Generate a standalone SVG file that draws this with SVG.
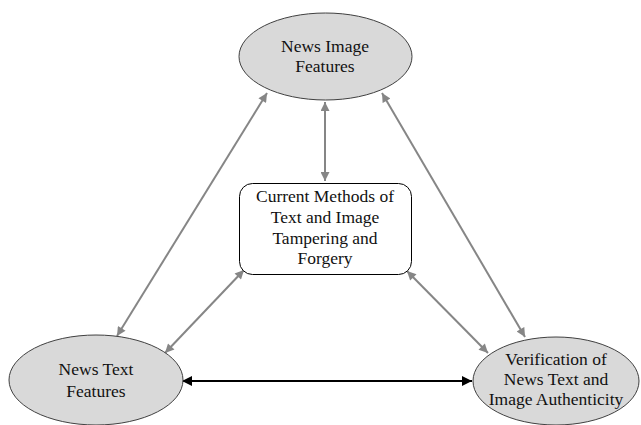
<svg xmlns="http://www.w3.org/2000/svg" width="641" height="425" viewBox="0 0 641 425">
<defs>
<marker id="ag" viewBox="0 0 10 10" refX="10" refY="5" markerWidth="10" markerHeight="9" markerUnits="userSpaceOnUse" orient="auto-start-reverse"><path d="M0,0 L10,5 L0,10 Z" fill="#868686"/></marker>
<marker id="ab" viewBox="0 0 10 10" refX="10" refY="5" markerWidth="11" markerHeight="10" markerUnits="userSpaceOnUse" orient="auto-start-reverse"><path d="M0,0 L10,5 L0,10 Z" fill="#000"/></marker>
</defs>
<style>
.ell{fill:#d9d9d9;stroke:#404040;stroke-width:1}
.box{fill:#fff;stroke:#000;stroke-width:1}
text{font-family:"Liberation Serif","Times New Roman",serif;font-size:17.5px;fill:#111;text-anchor:middle}
.g{stroke:#868686;stroke-width:2;fill:none;marker-start:url(#ag);marker-end:url(#ag)}
.b{stroke:#000;stroke-width:2;fill:none;marker-start:url(#ab);marker-end:url(#ab)}
</style>
<rect width="641" height="425" fill="#fff"/>
<g id="connectors">
<line class="g" x1="325" y1="102" x2="325" y2="181"/>
<line class="g" x1="267" y1="93" x2="117" y2="336"/>
<line class="g" x1="244" y1="270" x2="165" y2="353"/>
<line class="g" x1="382" y1="93" x2="525" y2="337"/>
<line class="g" x1="407" y1="271" x2="488" y2="353"/>
<line class="b" x1="182" y1="381" x2="472" y2="381"/>
</g>
<g id="news-image">
<ellipse class="ell" cx="325.5" cy="56.5" rx="86.5" ry="43.5"/>
<text x="325" y="52">News Image</text>
<text x="325" y="72">Features</text>
</g>
<g id="current-methods">
<rect class="box" x="239.5" y="183.5" width="172" height="91" rx="13"/>
<text x="325" y="202">Current Methods of</text>
<text x="325" y="223">Text and Image</text>
<text x="325" y="244">Tampering and</text>
<text x="325" y="264">Forgery</text>
</g>
<g id="news-text">
<ellipse class="ell" cx="96" cy="380" rx="87" ry="45"/>
<text x="96" y="375">News Text</text>
<text x="96" y="397">Features</text>
</g>
<g id="verification">
<ellipse class="ell" cx="556" cy="381" rx="83" ry="44"/>
<text x="556" y="365">Verification of</text>
<text x="556" y="385">News Text and</text>
<text x="556" y="405">Image Authenticity</text>
</g>
</svg>
